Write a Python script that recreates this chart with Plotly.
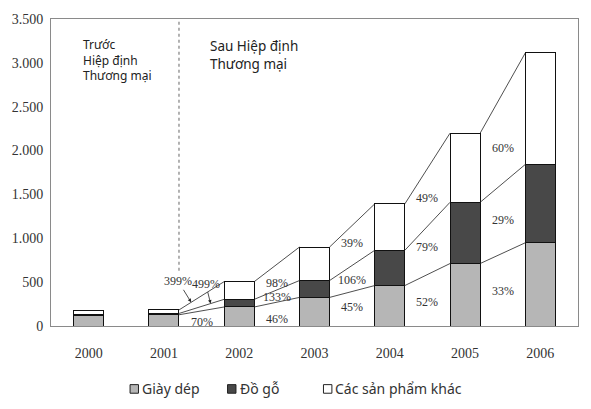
import plotly.graph_objects as go

years = ['2000', '2001', '2002', '2003', '2004', '2005', '2006']
giay_dep = [125, 128, 217, 326, 461, 712, 949]
do_go = [8, 15, 87, 192, 402, 698, 893]
khac = [47, 40, 202, 382, 529, 788, 1271]

# tang truong so voi nam truoc (2002 -> 2006)
pct_khac = ['399%', '98%', '39%', '49%', '60%']
pct_do_go = ['499%', '133%', '106%', '79%', '29%']
pct_giay = ['70%', '46%', '45%', '52%', '33%']

names = ['Giày dép', 'Đồ gỗ', 'Các sản phẩm khác']
colors = ['#b6b6b6', '#484848', '#ffffff']

# vi tri nhan phan tram (truc y), nhan 2002 cua 2 nhom tren dung mui ten
lab_y_khac = [None, 494, 945, 1463, 2035]
lab_y_do_go = [None, 333, 528, 900, 1208]
lab_y_giay = [43, 81, 212, 268, 400]

serif = "'Liberation Serif', 'DejaVu Serif', serif"
sans = "'Noto Sans', sans-serif"
bw = 0.4
x = list(range(len(years)))

fig = go.Figure()
for vals, name, col in zip([giay_dep, do_go, khac], names, colors):
    fig.add_trace(go.Bar(x=x, y=vals, name=name, width=bw, showlegend=False,
                         marker=dict(color=col, line=dict(color='#111', width=1))))

lvl1 = giay_dep
lvl2 = [a + b for a, b in zip(giay_dep, do_go)]
lvl3 = [a + b + c for a, b, c in zip(giay_dep, do_go, khac)]

for lvl in [lvl1, lvl2, lvl3]:
    lx, ly = [], []
    for i in range(1, len(years) - 1):
        lx += [i + bw / 2, i + 1 - bw / 2, None]
        ly += [lvl[i], lvl[i + 1], None]
    fig.add_trace(go.Scatter(x=lx, y=ly, mode='lines', showlegend=False,
                             line=dict(color='#222', width=0.8), hoverinfo='skip'))

ann = []
pct_font = dict(family=serif, size=12, color='#333')
for k in range(len(pct_giay)):
    xi = 1 + k + 0.5
    for txt, ly in [(pct_khac[k], lab_y_khac[k]), (pct_do_go[k], lab_y_do_go[k]),
                    (pct_giay[k], lab_y_giay[k])]:
        if ly is None:
            continue
        ann.append(dict(x=xi, y=ly, text=txt, showarrow=False, font=pct_font))


def on_line(lvl, t):
    x0, x1 = 1 + bw / 2, 2 - bw / 2
    return x0 + t * (x1 - x0), lvl[1] + t * (lvl[2] - lvl[1])


for txt, lvl, t, ax, ay in [(pct_khac[0], lvl3, 0.27, -13, -21),
                            (pct_do_go[0], lvl2, 0.70, -5, -20)]:
    px, py = on_line(lvl, t)
    ann.append(dict(x=px, y=py, text=txt, showarrow=True, ax=ax, ay=ay,
                    arrowhead=2, arrowsize=0.9, arrowwidth=0.8, arrowcolor='#222',
                    standoff=0, startstandoff=0, font=pct_font))

ann.append(dict(xref='paper', yref='paper', x=0.057, y=0.95, xanchor='left', yanchor='top',
                align='left', showarrow=False, text='Trước<br>Hiệp định<br>Thương mại',
                font=dict(family=sans, size=12, color='#222')))
ann.append(dict(xref='paper', yref='paper', x=0.298, y=0.948, xanchor='left', yanchor='top',
                align='left', showarrow=False, text='Sau Hiệp định<br>Thương mại',
                font=dict(family=sans, size=13.5, color='#222')))

# chu giai tu ve
shapes = []
leg_x = [0.150, 0.335, 0.517]
leg_y = -0.205
for lx, name, col in zip(leg_x, names, colors):
    shapes.append(dict(type='rect', xref='paper', yref='paper',
                       x0=lx, x1=lx + 0.016, y0=leg_y - 0.014, y1=leg_y + 0.014,
                       fillcolor=col, line=dict(color='#222', width=1)))
    ann.append(dict(xref='paper', yref='paper', x=lx + 0.019, y=leg_y, xanchor='left',
                    yanchor='middle', showarrow=False, text=name,
                    font=dict(family=sans, size=14, color='#333')))

shapes.append(dict(type='line', x0=1 + bw / 2, x1=1 + bw / 2, y0=630, y1=3480,
                   line=dict(color='#666', width=1, dash='dot')))

# trang html co le 8px nen bot le tuong ung
fig.update_layout(
    width=575, height=393,
    margin=dict(l=36, r=4, t=7, b=75),
    barmode='stack',
    plot_bgcolor='white', paper_bgcolor='white',
    separators=',.',
    annotations=ann, shapes=shapes,
    showlegend=False,
)
fig.update_xaxes(range=[-0.5, 6.5], tickvals=x, ticktext=years, showgrid=False, zeroline=False,
                 showline=True, mirror=True, linecolor='#8a8a8a', linewidth=1, ticks='',
                 ticklabelstandoff=14, tickfont=dict(family=serif, size=14, color='#333'))
fig.update_yaxes(range=[0, 3500], dtick=500, tickformat=',d', showgrid=False, zeroline=False,
                 showline=True, mirror=True, linecolor='#8a8a8a', linewidth=1, ticks='',
                 ticklabelstandoff=4, ticklabeloverflow='allow',
                 tickfont=dict(family=serif, size=14, color='#333'))

fig.write_html('out.html')
